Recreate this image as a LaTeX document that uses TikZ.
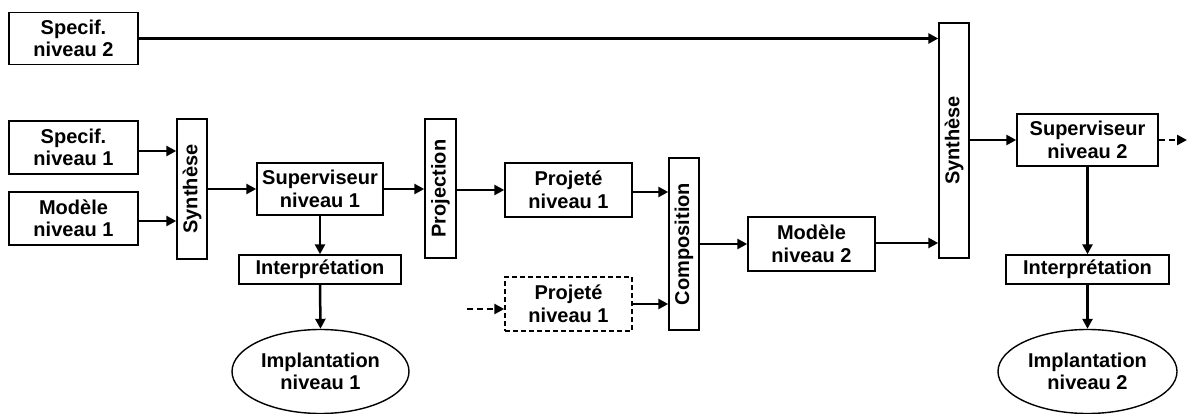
\documentclass[tikz,border=0pt]{standalone}
\usepackage{fontspec}
\setmainfont{Liberation Sans}
\usetikzlibrary{arrows.meta,shapes.geometric}
\tikzset{
  txt/.style={font=\fontsize{20}{22.5}\selectfont\bfseries},
  box/.style={draw, line width=1.4pt, inner sep=0pt, align=center, txt},
  ell/.style={box, ellipse},
  arr/.style={line width=2.5pt, -{Triangle[length=10pt,width=10pt]}},
  darr/.style={arr, dash pattern=on 6pt off 4pt},
}
\begin{document}
\begin{tikzpicture}[x=1pt,y=-1pt]
\useasboundingbox (0,0) rectangle (1187,414);
\node[box, minimum width=129pt, minimum height=52pt] (spec2) at (73.5,38.5) {Specif.\\niveau 2};
\node[box, minimum width=129pt, minimum height=53pt] (spec1) at (73.5,147.5) {Specif.\\niveau 1};
\node[box, minimum width=129pt, minimum height=53pt] (mod1) at (73.5,218.5) {Modèle\\niveau 1};
\node[box, minimum width=30pt, minimum height=140pt] (syn1) at (192,189) {};
\node[rotate=90, txt] (syn1t) at (syn1) {Synthèse};
\node[box, minimum width=126pt, minimum height=52pt] (sup1) at (320,189) {Superviseur\\niveau 1};
\node[box, minimum width=162pt, minimum height=29pt] (int1) at (320,269.5) {Interprétation};
\node[ell, minimum width=177pt, minimum height=84pt] (imp1) at (320.5,371.5) {Implantation\\niveau 1};
\node[box, minimum width=31pt, minimum height=139pt] (proj) at (440.5,188.5) {};
\node[rotate=90, txt] (projt) at (proj) {Projection};
\node[box, minimum width=127pt, minimum height=54pt] (pj1) at (568.5,190) {Projeté\\niveau 1};
\node[box, dash pattern=on 5pt off 3pt, minimum width=127pt, minimum height=54pt] (pj2) at (568.5,304) {Projeté\\niveau 1};
\node[box, minimum width=30pt, minimum height=172pt] (comp) at (684,244) {};
\node[rotate=90, txt] (compt) at (comp) {Composition};
\node[box, minimum width=127pt, minimum height=54pt] (mod2) at (811.5,244) {Modèle\\niveau 2};
\node[box, minimum width=30pt, minimum height=235pt] (syn2) at (954,140.5) {};
\node[rotate=90, txt] (syn2t) at (syn2) {Synthèse};
\node[box, minimum width=141pt, minimum height=52pt] (sup2) at (1087.5,140) {Superviseur\\niveau 2};
\node[box, minimum width=163pt, minimum height=29pt] (int2) at (1087.5,269.5) {Interprétation};
\node[ell, minimum width=179pt, minimum height=84pt] (imp2) at (1087.5,371.5) {Implantation\\niveau 2};
\coordinate (din) at (467,309);
\coordinate (dout) at (1187,140);
\draw[arr] (spec2.east) -- (syn2.west |- spec2.east);
\draw[arr] (spec1.east |- 0,151) -- (syn1.west |- 0,151);
\draw[arr] (mod1.east |- 0,221) -- (syn1.west |- 0,221);
\draw[arr] (syn1.east) -- (sup1.west);
\draw[arr] (sup1.east) -- (proj.west |- sup1.east);
\draw[arr] (proj.east |- pj1.west) -- (pj1.west);
\draw[arr] (pj1.east |- 0,192) -- (comp.west |- 0,192);
\draw[darr] (din) -- (pj2.west |- din);
\draw[arr] (pj2.east |- 0,304) -- (comp.west |- 0,304);
\draw[arr] (comp.east) -- (mod2.west);
\draw[arr] (mod2.east |- 0,243) -- (syn2.west |- 0,243);
\draw[arr] (syn2.east |- sup2.west) -- (sup2.west);
\draw[darr] (sup2.east) -- (dout);
\draw[arr] (sup1.south) -- (int1.north);
\draw[arr] (int1.south) -- (imp1.north);
\draw[arr] (sup2.south) -- (int2.north);
\draw[arr] (int2.south) -- (imp2.north);
\end{tikzpicture}
\end{document}
